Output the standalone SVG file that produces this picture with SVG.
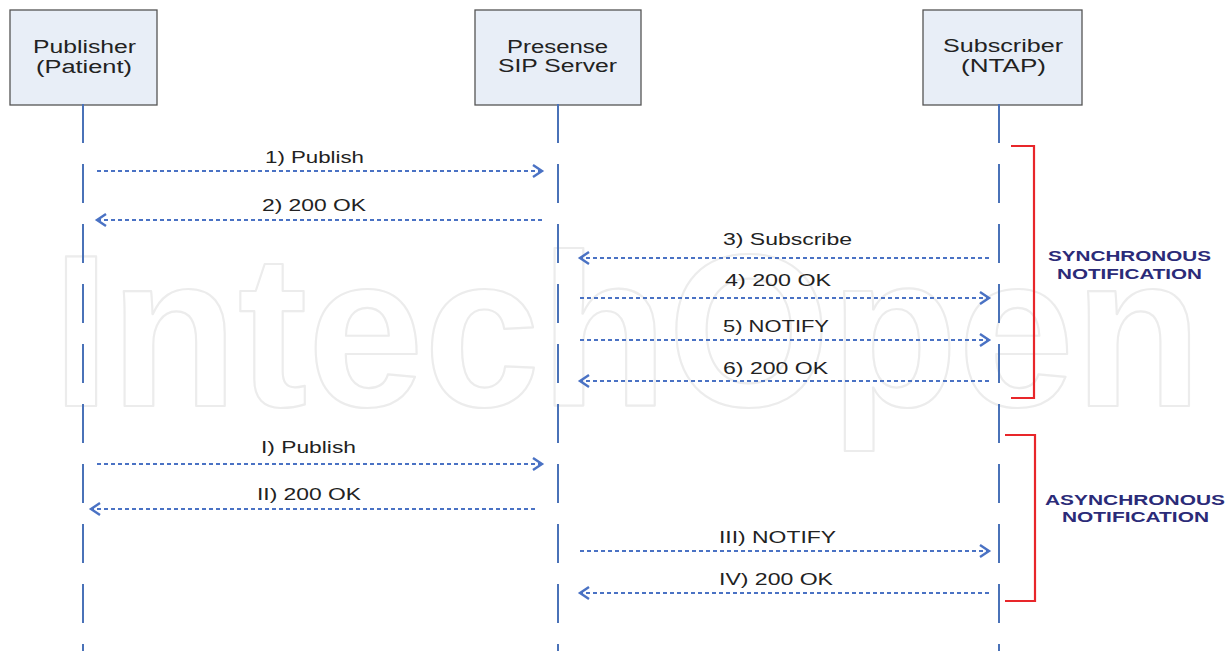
<svg xmlns="http://www.w3.org/2000/svg" width="1228" height="651" viewBox="0 0 1228 651">
<style>
  .box{fill:#e8eef7;stroke:#555;stroke-width:1.3}
  .bt{font-family:"Liberation Sans",Arial,sans-serif;font-size:18px;fill:#222;text-anchor:start}
  .life{stroke:#4a72b8;stroke-width:2;stroke-dasharray:39 21;fill:none}
  .msg{stroke:#4a72c4;stroke-width:2.2;stroke-dasharray:4 3;fill:none}
  .ml{font-family:"Liberation Sans",Arial,sans-serif;font-size:16px;fill:#222}
  .br{stroke:#e8262a;stroke-width:2.2;fill:none}
  .nl{font-family:"Liberation Sans",Arial,sans-serif;font-size:14px;font-weight:bold;fill:#2b2b78}
  .wm{font-family:"Liberation Sans",Arial,sans-serif;font-size:218px;font-weight:bold;fill:none;stroke:#ececec;stroke-width:2.2;stroke-linejoin:round}
</style>
<defs>
  <marker id="ah" markerUnits="userSpaceOnUse" markerWidth="14" markerHeight="16" refX="10" refY="7" orient="auto">
    <path d="M1,1 L10,7 L1,13" fill="none" stroke="#4a72c4" stroke-width="2.4"/>
  </marker>
</defs>
<rect width="1228" height="651" fill="#fff"/>
<text class="wm" x="52" y="406" textLength="1150" lengthAdjust="spacingAndGlyphs">IntechOpen</text>

<g id="publisher">
  <rect class="box" x="10" y="10" width="147" height="95"/>
  <text class="bt" x="33" y="53" textLength="103" lengthAdjust="spacingAndGlyphs">Publisher</text>
  <text class="bt" x="36" y="73" textLength="96" lengthAdjust="spacingAndGlyphs">(Patient)</text>
</g>
<g id="server">
  <rect class="box" x="475" y="10" width="166" height="95"/>
  <text class="bt" x="507" y="53" textLength="101" lengthAdjust="spacingAndGlyphs">Presense</text>
  <text class="bt" x="498" y="72" textLength="119" lengthAdjust="spacingAndGlyphs">SIP Server</text>
</g>
<g id="subscriber">
  <rect class="box" x="923" y="10" width="159" height="95"/>
  <text class="bt" x="943" y="52" textLength="120" lengthAdjust="spacingAndGlyphs">Subscriber</text>
  <text class="bt" x="961" y="72" textLength="85" lengthAdjust="spacingAndGlyphs">(NTAP)</text>
</g>

<g id="lifelines">
  <line class="life" x1="83" y1="104" x2="83" y2="651"/>
  <line class="life" x1="558" y1="104" x2="558" y2="651"/>
  <line class="life" x1="999" y1="104" x2="999" y2="651"/>
</g>

<g id="connectors">
  <line class="msg" x1="97" y1="171" x2="542" y2="171" marker-end="url(#ah)"/>
  <line class="msg" x1="542" y1="220" x2="97" y2="220" marker-end="url(#ah)"/>
  <line class="msg" x1="989" y1="258" x2="580" y2="258" marker-end="url(#ah)"/>
  <line class="msg" x1="580" y1="298" x2="989" y2="298" marker-end="url(#ah)"/>
  <line class="msg" x1="580" y1="340" x2="989" y2="340" marker-end="url(#ah)"/>
  <line class="msg" x1="989" y1="381" x2="580" y2="381" marker-end="url(#ah)"/>
  <line class="msg" x1="97" y1="464" x2="542" y2="464" marker-end="url(#ah)"/>
  <line class="msg" x1="535" y1="509" x2="91" y2="509" marker-end="url(#ah)"/>
  <line class="msg" x1="580" y1="551" x2="989" y2="551" marker-end="url(#ah)"/>
  <line class="msg" x1="989" y1="593" x2="580" y2="593" marker-end="url(#ah)"/>
</g>

<g id="labels">
  <text class="ml" x="265" y="163" textLength="99" lengthAdjust="spacingAndGlyphs">1) Publish</text>
  <text class="ml" x="262" y="211" textLength="104" lengthAdjust="spacingAndGlyphs">2) 200 OK</text>
  <text class="ml" x="723" y="245" textLength="129" lengthAdjust="spacingAndGlyphs">3) Subscribe</text>
  <text class="ml" x="725" y="286" textLength="106" lengthAdjust="spacingAndGlyphs">4) 200 OK</text>
  <text class="ml" x="723" y="332" textLength="106" lengthAdjust="spacingAndGlyphs">5) NOTIFY</text>
  <text class="ml" x="723" y="374" textLength="105" lengthAdjust="spacingAndGlyphs">6) 200 OK</text>
  <text class="ml" x="261" y="453" textLength="95" lengthAdjust="spacingAndGlyphs">I) Publish</text>
  <text class="ml" x="257" y="500" textLength="104" lengthAdjust="spacingAndGlyphs">II) 200 OK</text>
  <text class="ml" x="719" y="543" textLength="117" lengthAdjust="spacingAndGlyphs">III) NOTIFY</text>
  <text class="ml" x="719" y="585" textLength="114" lengthAdjust="spacingAndGlyphs">IV) 200 OK</text>
</g>

<g id="sync">
  <polyline class="br" points="1011,146 1034,146 1034,398 1011,398"/>
  <text class="nl" x="1048" y="261" textLength="163" lengthAdjust="spacingAndGlyphs">SYNCHRONOUS</text>
  <text class="nl" x="1057" y="279" textLength="145" lengthAdjust="spacingAndGlyphs">NOTIFICATION</text>
</g>
<g id="async">
  <polyline class="br" points="1005,435 1035,435 1035,601 1005,601"/>
  <text class="nl" x="1045" y="505" textLength="180" lengthAdjust="spacingAndGlyphs">ASYNCHRONOUS</text>
  <text class="nl" x="1062" y="522" textLength="147" lengthAdjust="spacingAndGlyphs">NOTIFICATION</text>
</g>
</svg>
